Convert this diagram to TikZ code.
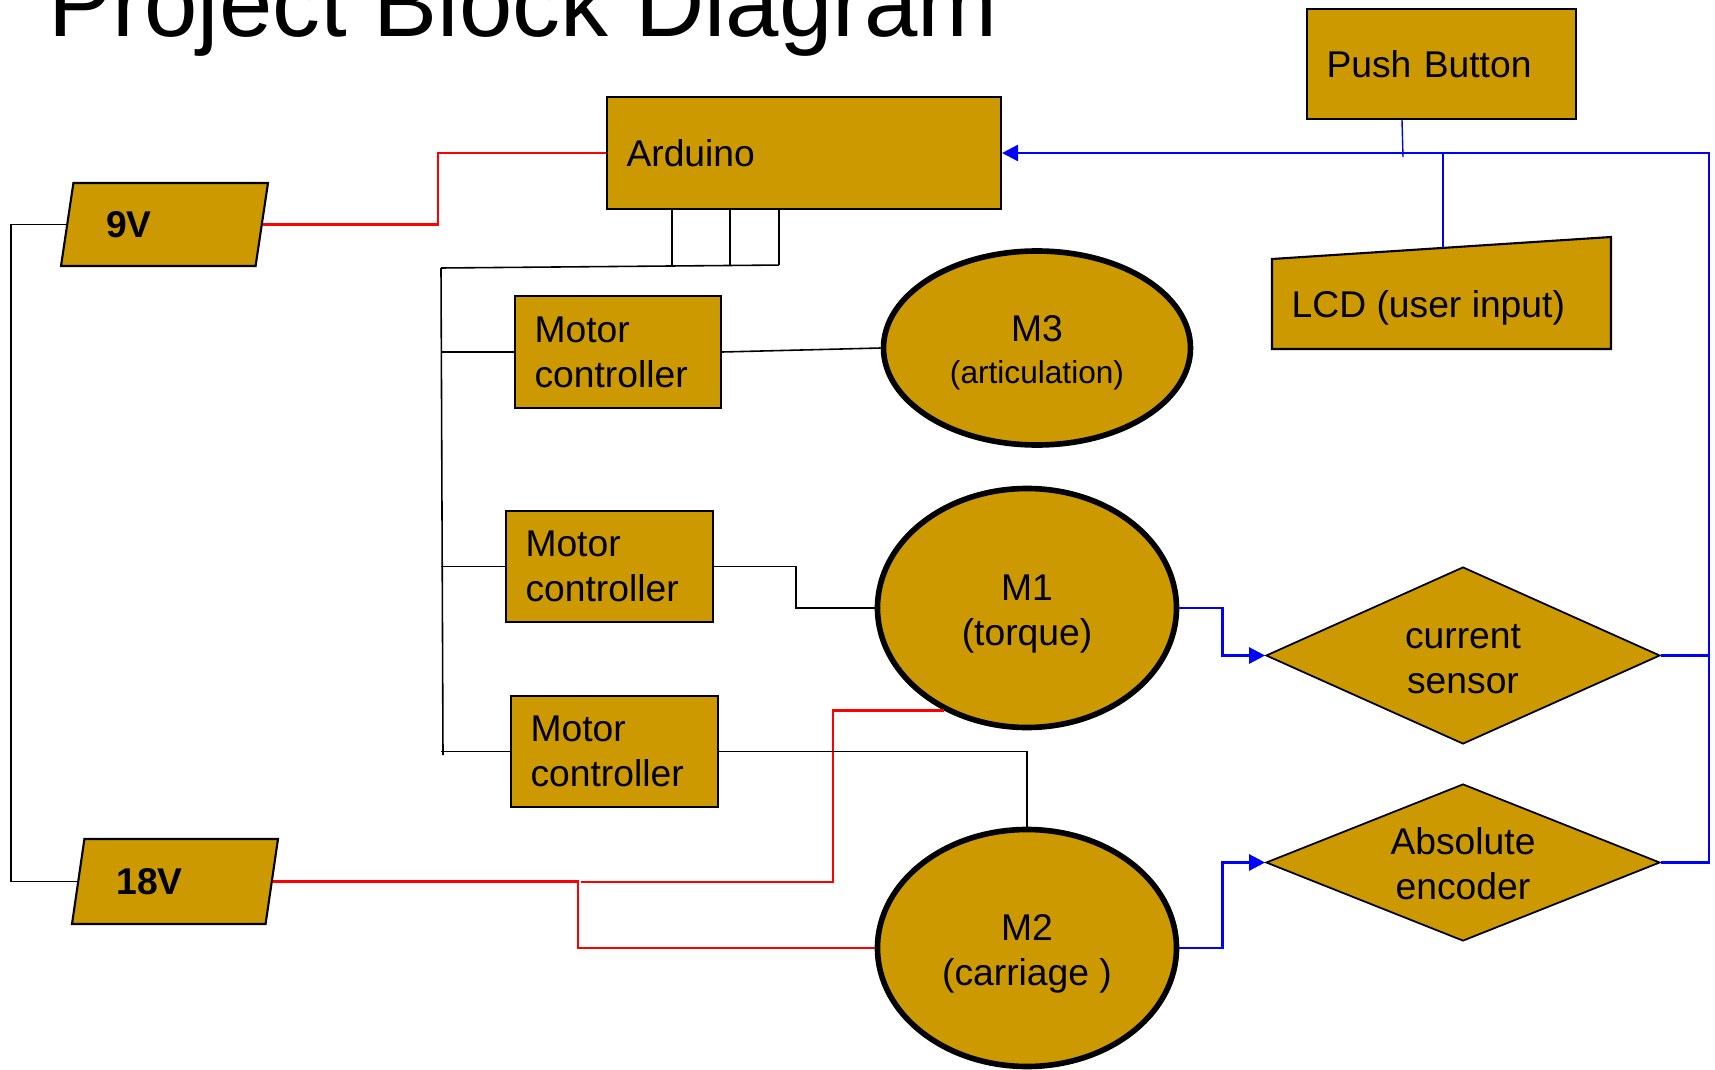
\documentclass[tikz,border=0pt]{standalone}
\usepackage{fontspec}
\setmainfont{Liberation Sans}
\usepackage{xcolor}
\usetikzlibrary{arrows.meta, shapes.geometric}
\definecolor{gold}{HTML}{CC9900}

\begin{document}
\begin{tikzpicture}[x=0.1mm, y=-0.1mm,
        every node/.style={font=\fontsize{10.6}{12.8}\selectfont},
        block/.style={draw, fill=gold, line width=0.6pt, align=left, inner xsep=1.95mm},
        motor/.style={ellipse, draw, fill=gold, line width=1.6pt},
        sensor/.style={diamond, draw, fill=gold, line width=0.5pt, inner sep=0pt},
        supply/.style={trapezium, trapezium left angle=76, trapezium right angle=104,
                trapezium stretches body, draw, fill=gold, line width=0.6pt,
                align=left, inner xsep=2.4mm, text width=11.7mm,
                font=\fontsize{10.6}{12.8}\selectfont\bfseries},
        wire/.style={line width=0.45pt},
        pwr/.style={red, line width=0.6pt},
        sig/.style={blue, line width=0.75pt},
        sigtip/.style={-{Triangle[length=1.6mm, width=1.6mm]}}]
        \useasboundingbox (0,0) rectangle (1715,1070);
        \clip (0,0) rectangle (1715,1070);

        \node[anchor=base west, inner sep=0pt, font=\fontsize{27.3}{32}\selectfont]
                (title) at (48,36) {Project Block Diagram};

        %----------------  blocks  ----------------
        \node[block, text width=35.5mm, minimum height=11.2mm] (ard) at (804,153) {Arduino};
        \node[block, text width=23mm, minimum height=11.0mm] (btn) at (1441.5,64) {Push Button};
        \node[block, text width=16.7mm, minimum height=11.2mm] (mcm3) at (618,352) {Motor\\controller};
        \node[block, text width=16.8mm, minimum height=11.1mm] (mcm1) at (609.5,566.5) {Motor\\controller};
        \node[block, text width=16.8mm, minimum height=11.1mm] (mcm2) at (614.5,751.5) {Motor\\controller};

        % LCD with its slanted top
        \filldraw[fill=gold, line width=0.6pt] (1272,259) -- (1611,237) -- (1611,349) -- (1272,349) -- cycle;
        \node[anchor=west, inner sep=0pt] (lcd) at (1291,308) {LCD (user input)};
        \coordinate (lcdtop) at (1443,248);

        %----------------  motors  ----------------
        \node[motor, minimum width=30.7mm, minimum height=19.4mm] (m3) at (1037,348) {};
        \node[motor, minimum width=29.9mm, minimum height=23.9mm] (m1) at (1027,608) {};
        \node[motor, minimum width=29.9mm, minimum height=23.7mm] (m2) at (1027,948) {};
        \node[align=center] (m3text) at (1037,353) {M3\\[-1pt]{\fontsize{9}{11}\selectfont(articulation)}};
        \node[align=center] (m1text) at (1027,614) {M1\\(torque)};
        \node[align=center] (m2text) at (1027,953.5) {M2\\(carriage )};

        %----------------  sensors  ----------------
        \node[sensor, minimum width=39.4mm, minimum height=17.7mm] (cs) at (1463,655.5) {};
        \node[sensor, minimum width=39.4mm, minimum height=15.7mm] (enc) at (1463,862.5) {};
        \node[align=center] (cstext) at (1463,659) {current\\sensor};
        \node[align=center] (enctext) at (1463,863.5) {Absolute\\encoder};

        %----------------  supplies  ----------------
        \node[supply, minimum height=8.3mm, minimum width=20.7mm] (v9) at (164.5,224.5) {9V};
        \node[supply, minimum height=8.5mm, minimum width=20.6mm] (v18) at (175,881.5) {18V};

        %----------------  power  ----------------
        \coordinate (jog9) at (438,0);
        \coordinate (jog18) at (578,0);
        \coordinate (gnd) at (11,0);
        \draw[pwr] (v9.east) -- (v9.east -| jog9) |- (ard.west);
        \draw[wire] (v9.west) -- (v9.west -| gnd) |- (v18.west);
        \draw[pwr] (v18.east) -- (v18.east -| jog18) |- (m2.west);
        \coordinate (tap) at (581,882);
        \draw[pwr] (tap) -- ++(252,0) |- (m1.231);

        %----------------  control  ----------------
        \foreach \dx/\pin in {66/a,124/b,173/c}
                \draw[wire] ([xshift=\dx*0.1mm]ard.south west) -- ++(0,55) coordinate (pin\pin);
        \coordinate (busN) at (441,268);
        \coordinate (busS) at (443,755);
        \draw[wire] (busN) -- (pinc);
        \draw[wire] (busN) -- (busS);
        \foreach \mc in {mcm3,mcm1,mcm2}
                \draw[wire] (\mc.west) -- (\mc.west -| busN);

        \draw[wire] (mcm3.east) -- (m3.west);
        \draw[wire] (mcm1.east) -- ++(82,0) |- (m1.west);
        \draw[wire] (mcm2.east) -| (m2.north);

        %----------------  feedback  ----------------
        \draw[sig, sigtip] (m1.east) -- ++(43,0) |- (cs.west);
        \draw[sig, sigtip] (m2.east) -- ++(43,0) |- (enc.west);
        \coordinate (rail) at (1709,153);
        \draw[sig] (cs.east) -- (cs.east -| rail);
        \draw[sig, sigtip] (enc.east) -| (rail) -- (ard.east);
        \draw[sig, thin] ([xshift=-3.95mm]btn.south) -- ++(1,37);
        \draw[sig, thin] (lcdtop) -- (lcdtop |- rail);
\end{tikzpicture}
\end{document}
